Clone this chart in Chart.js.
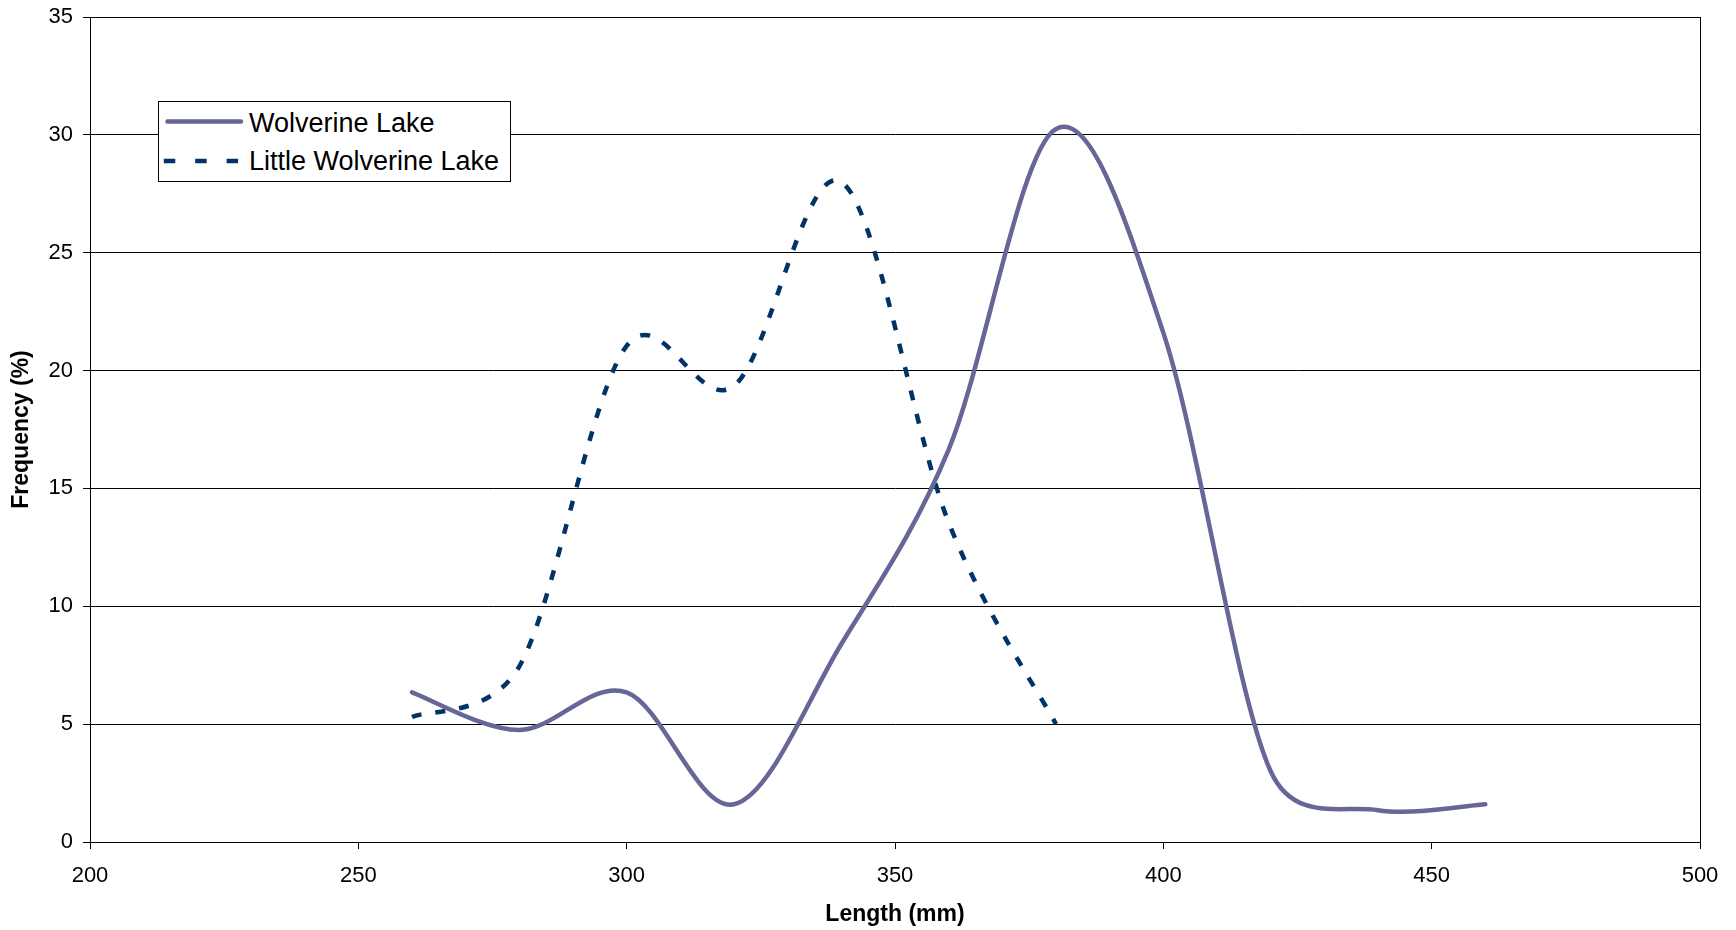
<!DOCTYPE html>
<html>
<head>
<meta charset="utf-8">
<title>Length frequency - Wolverine Lake</title>
<script src="https://cdn.jsdelivr.net/npm/chart.js@4.4.1/dist/chart.umd.min.js"></script>
<style>
    html, body { margin: 0; padding: 0; background: #fff; }
    #wrap { position: relative; width: 1736px; height: 930px; }
    #legend {
        position: absolute; left: 158px; top: 101px; width: 353px; height: 81px;
        box-sizing: border-box; border: 1px solid #000; background: #fff;
        font-family: "Liberation Sans", Arial, sans-serif; font-size: 27px; color: #000;
    }
    #legend .row { position: absolute; left: 0; width: 100%; height: 30px; }
    #legend .row svg { position: absolute; left: 4px; top: 0; }
    #legend .row span { position: absolute; left: 90px; top: 0; line-height: 30px; white-space: nowrap; }
</style>
</head>
<body>
<div id="wrap">
    <canvas id="chart" width="1736" height="930"></canvas>
    <div id="legend"></div>
</div>
<script>
// length (mm) / frequency (%) per lake, 20 mm classes
const wolvLength = [260, 280, 300, 320, 340, 360, 380, 400, 420, 440, 460];
const wolvFreq = [6.35, 4.75, 6.35, 1.6, 8.4, 16.65, 30.25, 21.6, 3.0, 1.35, 1.6];
const littleLength = [260, 280, 300, 320, 340, 360, 380];
const littleFreq = [5.3, 7.45, 21.05, 19.35, 28.0, 13.55, 5.0];

const seriesNames = ['Wolverine Lake', 'Little Wolverine Lake'];
const xTicks = [200, 250, 300, 350, 400, 450, 500];
const yTicks = [0, 5, 10, 15, 20, 25, 30, 35];

const FONT = '"Liberation Sans", Arial, sans-serif';
const WOLV_COLOR = '#666699';
const LITTLE_COLOR = '#003366';

Chart.defaults.font.family = FONT;
Chart.defaults.color = '#000';

const toPoints = (xs, ys) => xs.map((x, i) => ({ x, y: ys[i] }));

// right/top frame of the plot area
const frame = {
    id: 'frame',
    afterDraw(chart) {
        const { ctx, chartArea: a } = chart;
        ctx.save();
        ctx.strokeStyle = '#000';
        ctx.lineWidth = 1;
        ctx.strokeRect(Math.round(a.left) + 0.5, Math.round(a.top) + 0.5,
            Math.round(a.right - a.left), Math.round(a.bottom - a.top));
        ctx.restore();
    }
};

// spreadsheet-style smoothing: uniform catmull-rom (1/6), arms capped by segment length
const SMOOTH = 1 / 6;
const ARM_CAP = 0.5;
const smoothLines = {
    id: 'smoothLines',
    beforeDatasetDraw(chart, { meta }) {
        const pts = meta.data;
        const n = pts.length;
        pts.forEach((p, i) => {
            const prev = pts[Math.max(i - 1, 0)];
            const next = pts[Math.min(i + 1, n - 1)];
            const tx = (next.x - prev.x) * SMOOTH;
            const ty = (next.y - prev.y) * SMOOTH;
            const tl = Math.hypot(tx, ty) || 1;
            const kPrev = Math.min(1, ARM_CAP * Math.hypot(p.x - prev.x, p.y - prev.y) / tl);
            const kNext = Math.min(1, ARM_CAP * Math.hypot(next.x - p.x, next.y - p.y) / tl);
            p.cp1x = p.x - tx * kPrev; p.cp1y = p.y - ty * kPrev;
            p.cp2x = p.x + tx * kNext; p.cp2y = p.y + ty * kNext;
        });
        meta.dataset._pointsUpdated = true;
    }
};

const chart = new Chart(document.getElementById('chart'), {
    type: 'line',
    data: {
        datasets: [{
            label: seriesNames[0],
            data: toPoints(wolvLength, wolvFreq),
            borderColor: WOLV_COLOR,
            borderWidth: 4.5,
            borderCapStyle: 'round',
            borderJoinStyle: 'round',
            tension: 0.35,
            pointRadius: 0,
            fill: false
        }, {
            label: seriesNames[1],
            data: toPoints(littleLength, littleFreq),
            borderColor: LITTLE_COLOR,
            borderWidth: 4.5,
            borderDash: [10, 14],
            tension: 0.35,
            pointRadius: 0,
            fill: false
        }]
    },
    options: {
        responsive: false,
        animation: false,
        devicePixelRatio: 1,
        layout: { padding: { left: 0, right: 36, top: 17, bottom: 0 } },
        plugins: { legend: { display: false }, tooltip: { enabled: false } },
        scales: {
            x: {
                type: 'linear',
                min: 200, max: 500,
                afterBuildTicks: s => { s.ticks = xTicks.map(v => ({ value: v })); },
                afterFit: s => { s.height = 88; s.paddingLeft = 0; s.paddingRight = 0; },
                grid: { drawOnChartArea: false, drawTicks: true, tickLength: 7, tickColor: '#000', color: '#000' },
                border: { color: '#000', width: 1 },
                ticks: { font: { size: 22 }, color: '#000', padding: 14, maxRotation: 0 },
                title: { display: true, text: 'Length (mm)', font: { size: 23, weight: 'bold' }, color: '#000', padding: { top: 0, bottom: 2 } }
            },
            y: {
                min: 0, max: 35,
                afterBuildTicks: s => { s.ticks = yTicks.map(v => ({ value: v })); },
                afterFit: s => { s.width = 90; s.paddingTop = 0; s.paddingBottom = 0; },
                grid: { color: '#000', lineWidth: 1, tickLength: 7, tickColor: '#000' },
                border: { color: '#000', width: 1 },
                ticks: { font: { size: 22 }, color: '#000', padding: 10 },
                title: { display: true, text: 'Frequency (%)', font: { size: 23, weight: 'bold' }, color: '#000', padding: { top: 8, bottom: 0 } }
            }
        }
    },
    plugins: [frame, smoothLines]
});

// legend box drawn from the dataset styles
const legend = document.getElementById('legend');
chart.data.datasets.forEach((ds, i) => {
    const row = document.createElement('div');
    row.className = 'row';
    row.style.top = (i === 0 ? 6 : 44) + 'px';
    const dash = ds.borderDash ? 'stroke-dasharray="11.5 19.9"' : '';
    const cap = ds.borderDash ? 'butt' : 'round';
    const x1 = ds.borderDash ? 0.8 : 4.5;
    const x2 = ds.borderDash ? 76 : 78;
    const y = i === 0 ? 13.5 : 15;
    row.innerHTML =
        `<svg width="84" height="30"><line x1="${x1}" y1="${y}" x2="${x2}" y2="${y}" stroke="${ds.borderColor}" stroke-width="4.5" stroke-linecap="${cap}" ${dash}/></svg>` +
        `<span>${ds.label}</span>`;
    legend.appendChild(row);
});
</script>
</body>
</html>
